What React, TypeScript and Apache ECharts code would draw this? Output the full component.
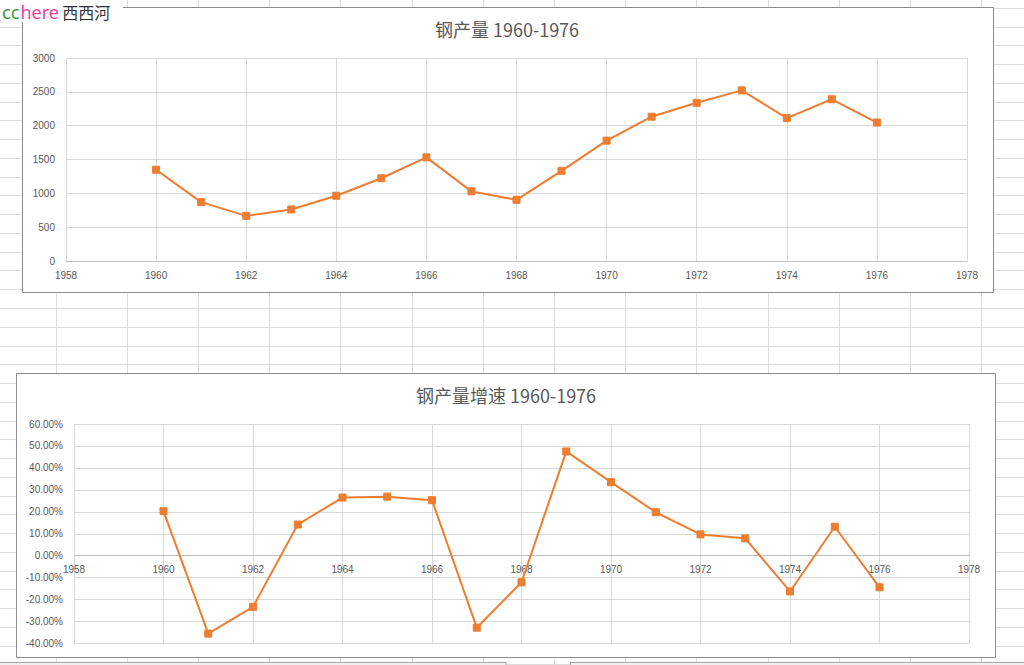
import React, { useEffect, useRef } from "react";
import * as echarts from "echarts";

const years = [1960, 1961, 1962, 1963, 1964, 1965, 1966, 1967, 1968, 1969, 1970, 1971, 1972, 1973, 1974, 1975, 1976];
const steelOutput = [1349, 870, 667, 762, 964, 1223, 1532, 1029, 904, 1333, 1779, 2132, 2338, 2522, 2112, 2390, 2046];
const growthRate = [0.203, -0.355, -0.233, 0.142, 0.265, 0.269, 0.253, -0.328, -0.121, 0.475, 0.335, 0.198, 0.097, 0.079, -0.163, 0.132, -0.144];

const title1 = "钢产量 1960-1976";
const title2 = "钢产量增速 1960-1976";

const ORANGE = "#ed7d31";
const LABEL_COLOR = "#595959";
const GRID_COLOR = "#d9d9d9";
const AXIS_COLOR = "#bfbfbf";
const FONT = "'Liberation Sans', Arial, sans-serif";
const CJK = "'Noto Sans CJK SC', 'Noto Sans', sans-serif";

const G2_HEIGHT = 219.5;
const G2_MIN = -0.4;
const G2_MAX = 0.6;

function sheetLines() {
  const els: any[] = [];
  for (let x = 55.5; x < 1024; x += 71.2) {
    els.push({
      type: "line",
      z: -20,
      shape: { x1: Math.round(x) + 0.5, y1: 0, x2: Math.round(x) + 0.5, y2: 665 },
      style: { stroke: "#dcdcdc", lineWidth: 1 },
      silent: true,
    });
  }
  for (let y = 7.86; y < 665; y += 18.76) {
    els.push({
      type: "line",
      z: -20,
      shape: { x1: 0, y1: Math.round(y) + 0.5, x2: 1024, y2: Math.round(y) + 0.5 },
      style: { stroke: "#dcdcdc", lineWidth: 1 },
      silent: true,
    });
  }
  return els;
}

function xAxisCfg(gridIndex: number, offset: number) {
  return {
    type: "value",
    gridIndex,
    min: 1958,
    max: 1978,
    interval: 2,
    offset,
    axisLine: { show: true, onZero: false, lineStyle: { color: AXIS_COLOR, width: 1 } },
    axisTick: { show: false },
    axisLabel: {
      color: LABEL_COLOR,
      fontSize: 10,
      fontFamily: FONT,
      margin: 9,
      formatter: (v: number) => String(v),
    },
    splitLine: { show: true, lineStyle: { color: GRID_COLOR, width: 1 } },
  };
}

export default function App() {
  const ref = useRef<HTMLDivElement>(null);

  useEffect(() => {
    if (!ref.current) return;
    const chart = echarts.init(ref.current, undefined, { renderer: "svg" });

    const zeroOffset = -(G2_HEIGHT * (0 - G2_MIN)) / (G2_MAX - G2_MIN);

    const option: any = {
      animation: false,
      backgroundColor: "#ffffff",
      graphic: [
        ...sheetLines(),
        {
          type: "rect",
          z: -10,
          shape: { x: 22.5, y: 7.5, width: 971, height: 285 },
          style: { fill: "#ffffff", stroke: "#8c8c8c", lineWidth: 1 },
          silent: true,
        },
        {
          type: "rect",
          z: -10,
          shape: { x: 16.5, y: 373.5, width: 979, height: 284 },
          style: { fill: "#ffffff", stroke: "#8c8c8c", lineWidth: 1 },
          silent: true,
        },
        {
          type: "rect",
          z: -10,
          shape: { x: -1, y: 662.5, width: 507, height: 10 },
          style: { fill: "#f0f0f0", stroke: "#a6a6a6", lineWidth: 1 },
          silent: true,
        },
        {
          type: "rect",
          z: -10,
          shape: { x: 570.5, y: 662.5, width: 460, height: 10 },
          style: { fill: "#f0f0f0", stroke: "#a6a6a6", lineWidth: 1 },
          silent: true,
        },
        {
          type: "text",
          z: 5,
          x: 507,
          y: 29,
          style: {
            text: title1,
            fill: LABEL_COLOR,
            font: `18px ${CJK}`,
            textAlign: "center",
            textVerticalAlign: "middle",
          },
        },
        {
          type: "text",
          z: 5,
          x: 506,
          y: 395,
          style: {
            text: title2,
            fill: LABEL_COLOR,
            font: `18px ${CJK}`,
            textAlign: "center",
            textVerticalAlign: "middle",
          },
        },
        {
          type: "rect",
          z: 50,
          shape: { x: 0, y: 0, width: 123, height: 22 },
          style: { fill: "#ffffff" },
          silent: true,
        },
        {
          type: "text",
          z: 60,
          x: 2,
          y: 2,
          style: {
            text: "{a|cc}{s| }{b|here} {c|西西河}",
            textVerticalAlign: "top",
            rich: {
              a: { fill: "#3a9a3a", color: "#3a9a3a", fontSize: 18, fontFamily: "'Noto Sans', sans-serif", lineHeight: 19 },
              s: { fontSize: 4, lineHeight: 19 },
              b: { fill: "#f0409a", color: "#f0409a", fontSize: 18, fontFamily: "'Noto Sans', sans-serif", lineHeight: 19 },
              c: { fill: "#333333", color: "#333333", fontSize: 16, fontFamily: CJK, lineHeight: 19 },
            },
          },
        },
      ],
      grid: [
        { left: 66, top: 58, width: 901, height: 203, containLabel: false },
        { left: 74, top: 424, width: 895, height: G2_HEIGHT, containLabel: false },
      ],
      xAxis: [xAxisCfg(0, 0), xAxisCfg(1, zeroOffset)],
      yAxis: [
        {
          type: "value",
          gridIndex: 0,
          min: 0,
          max: 3000,
          interval: 500,
          axisLine: { show: false, onZero: false },
          axisTick: { show: false },
          axisLabel: {
            color: LABEL_COLOR,
            fontSize: 10,
            fontFamily: FONT,
            margin: 11,
            formatter: (v: number) => String(v),
          },
          splitLine: { show: true, lineStyle: { color: GRID_COLOR, width: 1 } },
        },
        {
          type: "value",
          gridIndex: 1,
          min: G2_MIN,
          max: G2_MAX,
          interval: 0.1,
          axisLine: { show: false, onZero: false },
          axisTick: { show: false },
          axisLabel: {
            color: LABEL_COLOR,
            fontSize: 10,
            fontFamily: FONT,
            margin: 11,
            formatter: (v: number) => (v * 100).toFixed(2) + "%",
          },
          splitLine: { show: true, lineStyle: { color: GRID_COLOR, width: 1 } },
        },
      ],
      series: [
        {
          type: "line",
          xAxisIndex: 0,
          yAxisIndex: 0,
          data: years.map((y, i) => [y, steelOutput[i]]),
          symbol: "rect",
          symbolSize: 7,
          lineStyle: { color: ORANGE, width: 2 },
          itemStyle: { color: ORANGE, borderColor: ORANGE },
          z: 5,
        },
        {
          type: "line",
          xAxisIndex: 1,
          yAxisIndex: 1,
          data: years.map((y, i) => [y, growthRate[i]]),
          symbol: "rect",
          symbolSize: 7,
          lineStyle: { color: ORANGE, width: 2 },
          itemStyle: { color: ORANGE, borderColor: ORANGE },
          z: 5,
        },
      ],
    };

    chart.setOption(option);
    return () => chart.dispose();
  }, []);

  return (
    <div
      ref={ref}
      style={{ position: "fixed", left: 0, top: 0, width: 1024, height: 665 }}
    />
  );
}
